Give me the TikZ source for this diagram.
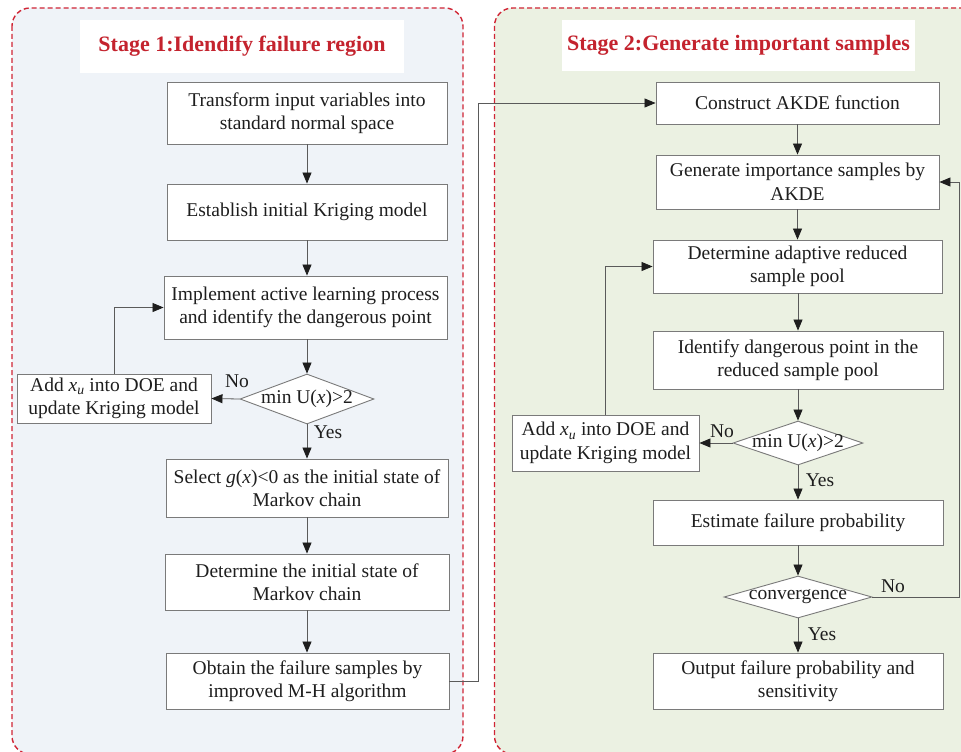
\documentclass[tikz,border=0pt]{standalone}
\usepackage{fontspec}
\setmainfont{Liberation Serif}
\usetikzlibrary{arrows.meta,shapes.geometric}
\definecolor{stagered}{HTML}{C4232E}
\definecolor{dashred}{HTML}{D02535}
\definecolor{leftbg}{HTML}{EFF3F8}
\definecolor{rightbg}{HTML}{EBF1E2}
\definecolor{boxline}{HTML}{7A7A7A}
\definecolor{lineg}{HTML}{5A5A5A}
\definecolor{txt}{HTML}{1E1E1E}
\newcommand{\boxfont}{\fontsize{19.5}{23.5}\selectfont}
\begin{document}
\begin{tikzpicture}[x=1pt,y=-1pt,
  box/.style={draw=boxline, fill=white, line width=0.9pt, align=center, font=\boxfont, inner sep=0pt, text=txt},
  dia/.style={diamond, draw=boxline, fill=white, line width=0.9pt, inner sep=0pt, font=\boxfont, text=txt, aspect=2.5},
  arr/.style={draw=lineg, line width=0.8pt, -{Triangle[length=11pt,width=9pt,color=txt]}},
  lab/.style={font=\boxfont, text=txt, inner sep=0pt},
  panel/.style={draw=dashred, dash pattern=on 5pt off 3pt, line width=1.4pt, rounded corners=18pt},
  title/.style={fill=white, inner sep=0pt, font=\bfseries\fontsize{22}{26}\selectfont, text=stagered}
]
\useasboundingbox (0,0) rectangle (961,752);
\clip (0,0) rectangle (961,752);

% panels
\draw[panel, fill=leftbg] (12,8) rectangle (463,754);
\draw[panel, fill=rightbg] (494.5,8) rectangle (1000,754);

% titles
\node[title, minimum width=324, minimum height=53] (t1) at (242,46.5) {Stage 1:Idendify failure region};
\node[title, minimum width=353, minimum height=51] (t2) at (738.5,45.5) {Stage 2:Generate important samples};

% left column
\node[box, minimum width=280, minimum height=62] (b1) at (307,113) {Transform input variables into\\standard normal space};
\node[box, minimum width=280, minimum height=56] (b2) at (307,212) {Establish initial Kriging model};
\node[box, minimum width=283, minimum height=63] (b3) at (305.5,307.5) {Implement active learning process\\and identify the dangerous point};
\node[dia, minimum width=134, minimum height=50] (d1) at (307,399) {\makebox[0pt]{min U(\textit{x})>2}};
\node[box, minimum width=194, minimum height=49] (a1) at (114,398.5) {Add \textit{x}\textsubscript{\textit{u}} into DOE and\\update Kriging model};
\node[box, minimum width=282, minimum height=58] (b4) at (307,488) {Select \textit{g}(\textit{x})<0 as the initial state of\\Markov chain};
\node[box, minimum width=284, minimum height=56] (b5) at (307,582) {Determine the initial state of\\Markov chain};
\node[box, minimum width=283, minimum height=56] (b6) at (307.5,681) {Obtain the failure samples by\\improved M-H algorithm};

% right column
\node[box, minimum width=283, minimum height=42] (r1) at (797.5,103) {Construct AKDE function};
\node[box, minimum width=283, minimum height=54] (r2) at (797.5,182) {Generate importance samples by\\AKDE};
\node[box, minimum width=289, minimum height=53] (r3) at (797.5,266.5) {Determine adaptive reduced\\sample pool};
\node[box, minimum width=290, minimum height=58] (r4) at (798,360) {Identify dangerous point in the\\reduced sample pool};
\node[dia, minimum width=130, minimum height=44] (d2) at (798,443) {\makebox[0pt]{min U(\textit{x})>2}};
\node[box, minimum width=187, minimum height=56] (a2) at (605.5,443) {Add \textit{x}\textsubscript{\textit{u}} into DOE and\\update Kriging model};
\node[box, minimum width=290, minimum height=45] (r5) at (798,522.5) {Estimate failure probability};
\node[dia, minimum width=148, minimum height=42] (d3) at (798,597) {\makebox[0pt]{convergence}};
\node[box, minimum width=290, minimum height=56] (r6) at (798,681) {Output failure probability and\\sensitivity};

\coordinate (c1) at (478,0);
\coordinate (c2) at (959.5,0);

% left connectors
\draw[arr] (b1.south) -- (b1.south |- b2.north);
\draw[arr] (b2.south) -- (b2.south |- b3.north);
\draw[arr] (b3.south -| d1.north) -- (d1.north);
\draw[arr] (d1.south) -- (d1.south |- b4.north);
\draw[arr] (d1.west) -- (a1.east);
\draw[arr] (a1.north) |- (b3.west);
\draw[arr] (b4.south) -- (b4.south |- b5.north);
\draw[arr] (b5.south) -- (b5.south |- b6.north);
\draw[arr] (b6.east) -- (b6.east -| c1) -- (c1 |- r1.west) -- (r1.west);

% right connectors
\draw[arr] (r1.south) -- (r1.south |- r2.north);
\draw[arr] (r2.south) -- (r2.south |- r3.north);
\draw[arr] (r3.south -| r4.north) -- (r4.north);
\draw[arr] (r4.south) -- (d2.north);
\draw[arr] (d2.south) -- (d2.south |- r5.north);
\draw[arr] (d2.west) -- (a2.east);
\draw[arr] (a2.north) |- (r3.west);
\draw[arr] (r5.south -| d3.north) -- (d3.north);
\draw[arr] (d3.south) -- (d3.south |- r6.north);
\draw[arr] (d3.east) -- (d3.east -| c2) -- (c2 |- r2.east) -- (r2.east);

% labels
\node[lab] (n1) at (237,381) {No};
\node[lab] (y1) at (328,432) {Yes};
\node[lab] (n2) at (722,431) {No};
\node[lab] (y2) at (820,480) {Yes};
\node[lab] (n3) at (893,586) {No};
\node[lab] (y3) at (822,634) {Yes};
\end{tikzpicture}
\end{document}
